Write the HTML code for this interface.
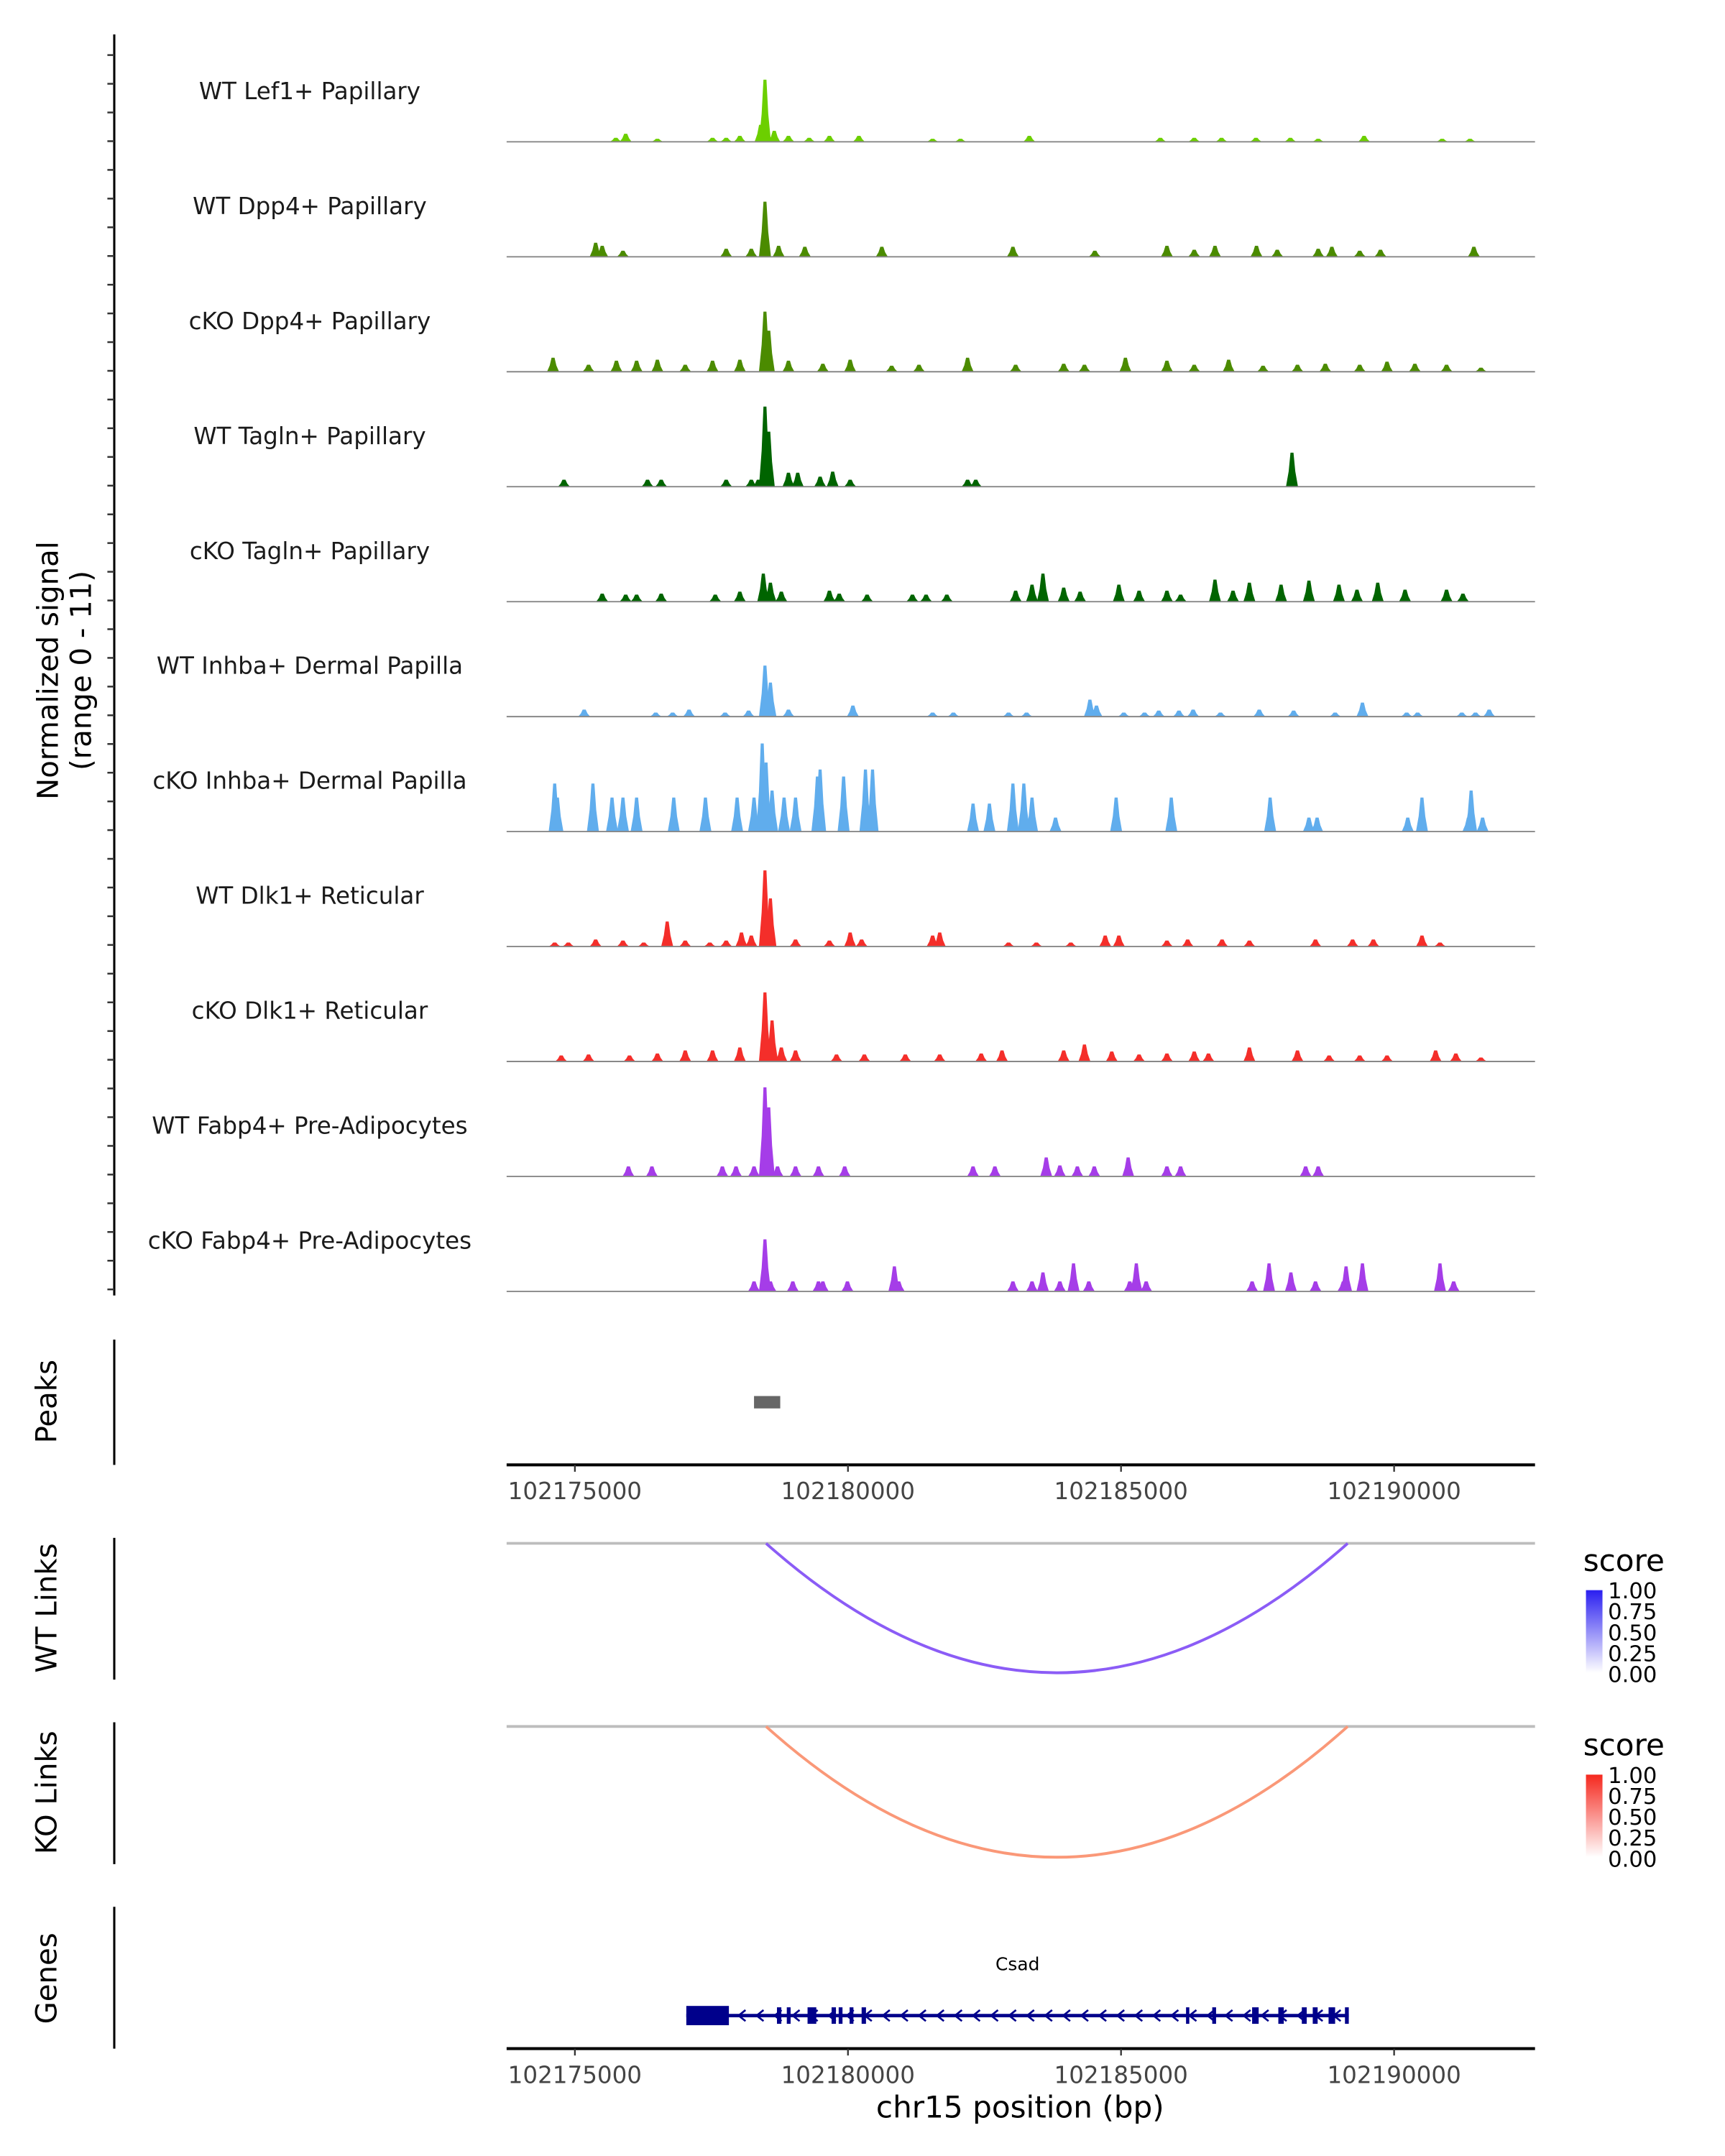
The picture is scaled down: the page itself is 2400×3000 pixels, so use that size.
<!DOCTYPE html>
<html><head><meta charset="utf-8"><style>
html,body{margin:0;padding:0;background:#fff;}
svg{display:block;font-family:"DejaVu Sans","Liberation Sans",sans-serif;}
</style></head><body>
<svg id="chart" width="2400" height="3000" viewBox="0 0 1253 1566" preserveAspectRatio="none" xmlns="http://www.w3.org/2000/svg">
<g id="tracks"></g>
<g id="lower"></g>
</svg>
<script>
// ---- data ----
const regionStart = 102173750;
const regionEnd = 102192580;
const axisTicks = [102175000, 102180000, 102185000, 102190000];
const trackNames = ["WT Lef1+ Papillary","WT Dpp4+ Papillary","cKO Dpp4+ Papillary","WT Tagln+ Papillary","cKO Tagln+ Papillary","WT Inhba+ Dermal Papilla","cKO Inhba+ Dermal Papilla","WT Dlk1+ Reticular","cKO Dlk1+ Reticular","WT Fabp4+ Pre-Adipocytes","cKO Fabp4+ Pre-Adipocytes"];
const trackColors = ["#6ccf00","#4b8b00","#4b8b00","#006400","#006400","#60aded","#60aded","#f42e2a","#f42e2a","#a53de8","#a53de8"];
// peaks per track: [position kb (offset in 102,1xx kb), height (0-11)]
const t1 = [[178.48,6.2],[178.40,1.7],[178.65,1.1],[175.93,0.8],[175.75,0.4],[177.77,0.4],[178.02,0.6],[178.91,0.6],[179.29,0.4],[179.66,0.6],[180.2,0.6],[181.55,0.3],[182.06,0.3],[183.32,0.6],[185.72,0.4],[186.34,0.4],[186.84,0.4],[187.47,0.4],[188.1,0.4],[188.61,0.3],[189.45,0.6],[190.88,0.3],[191.39,0.3],[177.52,0.4],[176.51,0.3]];
const t2 = [[178.48,5.5],[175.38,1.4],[175.5,1.1],[175.88,0.6],[177.77,0.8],[178.23,0.8],[178.73,1.1],[179.21,1.0],[180.62,1.0],[183.02,1.0],[184.52,0.6],[185.84,1.1],[186.34,0.7],[186.72,1.1],[187.48,1.1],[187.86,0.7],[188.61,0.8],[188.86,1.0],[189.37,0.6],[189.75,0.7],[191.46,1.0]];
const t3 = [[178.48,6.0],[178.55,4.1],[174.6,1.4],[175.25,0.7],[175.76,1.1],[176.13,1.1],[176.51,1.2],[177.02,0.7],[177.52,1.1],[178.02,1.2],[178.91,1.1],[179.54,0.8],[180.04,1.2],[180.8,0.6],[181.3,0.7],[182.19,1.4],[183.07,0.7],[183.95,0.8],[184.33,0.7],[185.08,1.4],[185.84,1.1],[186.34,0.7],[186.97,1.2],[187.6,0.6],[188.23,0.7],[188.74,0.8],[189.37,0.7],[189.87,1.0],[190.38,0.8],[190.96,0.7],[191.59,0.4]];
const t4 = [[178.48,8.0],[178.55,5.5],[174.8,0.7],[176.33,0.7],[176.58,0.7],[177.77,0.7],[178.23,0.7],[178.36,0.7],[178.91,1.4],[179.08,1.4],[179.49,1.0],[179.72,1.5],[180.04,0.7],[182.19,0.7],[182.34,0.7],[188.13,3.4]];
const t5 = [[175.5,0.8],[175.93,0.7],[176.13,0.7],[176.58,0.8],[177.57,0.7],[178.02,1.0],[178.45,2.8],[178.58,1.9],[178.78,1.0],[179.66,1.1],[179.84,0.8],[180.35,0.7],[181.18,0.7],[181.43,0.7],[181.81,0.7],[183.07,1.1],[183.37,1.7],[183.57,2.8],[183.95,1.4],[184.25,1.0],[184.96,1.7],[185.33,1.1],[185.84,1.1],[186.09,0.7],[186.72,2.2],[187.05,1.1],[187.35,1.9],[187.93,1.7],[188.44,2.1],[188.99,1.7],[189.32,1.2],[189.7,1.9],[190.2,1.2],[190.96,1.2],[191.26,0.8]];
const t6 = [[178.48,5.1],[178.58,3.4],[175.17,0.7],[176.48,0.4],[176.79,0.4],[177.09,0.7],[177.75,0.4],[178.18,0.6],[178.91,0.7],[180.09,1.1],[181.55,0.4],[181.93,0.4],[182.94,0.4],[183.27,0.4],[184.43,1.7],[184.55,1.1],[185.05,0.4],[185.43,0.4],[185.69,0.6],[186.06,0.6],[186.32,0.7],[186.82,0.4],[187.53,0.7],[188.16,0.6],[188.92,0.4],[189.42,1.4],[190.23,0.4],[190.43,0.4],[191.24,0.4],[191.49,0.4],[191.74,0.7]];
const t7 = [[178.43,8.8],[178.5,6.9],[174.63,4.8],[174.68,3.4],[175.33,4.8],[175.68,3.4],[175.88,3.4],[176.13,3.4],[176.81,3.4],[177.39,3.4],[177.97,3.4],[178.28,3.4],[178.61,4.1],[178.83,3.4],[179.04,3.4],[179.44,5.5],[179.49,6.2],[179.92,5.5],[180.32,6.2],[180.45,6.2],[182.29,2.8],[182.59,2.8],[183.02,4.8],[183.22,4.8],[183.37,3.4],[183.8,1.4],[184.91,3.4],[185.92,3.4],[187.73,3.4],[188.44,1.4],[188.59,1.4],[190.25,1.4],[190.51,3.4],[191.36,1.4],[191.62,1.4],[191.41,4.1]];
const t8 = [[178.48,7.6],[178.58,4.8],[174.63,0.4],[174.88,0.4],[175.38,0.7],[175.88,0.6],[176.26,0.4],[176.69,2.5],[177.02,0.6],[177.47,0.4],[177.77,0.6],[178.05,1.4],[178.23,1.1],[179.04,0.7],[179.66,0.6],[180.04,1.4],[180.25,0.7],[181.55,1.1],[181.68,1.4],[182.94,0.4],[183.45,0.4],[184.08,0.4],[184.71,1.1],[184.96,1.1],[185.84,0.6],[186.22,0.7],[186.85,0.7],[187.35,0.6],[188.56,0.7],[189.24,0.7],[189.62,0.7],[190.51,1.1],[190.84,0.4]];
const t9 = [[178.48,6.9],[178.61,4.1],[174.75,0.6],[175.25,0.7],[176.0,0.6],[176.51,0.8],[177.02,1.1],[177.52,1.1],[178.02,1.4],[178.78,1.4],[179.04,1.1],[179.79,0.7],[180.3,0.7],[181.05,0.7],[181.68,0.7],[182.44,0.8],[182.82,1.1],[183.95,1.1],[184.33,1.7],[184.83,1.0],[185.33,0.7],[185.84,0.8],[186.34,1.0],[186.6,0.8],[187.35,1.4],[188.23,1.1],[188.81,0.6],[189.37,0.6],[189.87,0.6],[190.76,1.1],[191.13,0.8],[191.59,0.4]];
const t10 = [[178.48,8.9],[178.55,6.9],[175.98,1.0],[176.41,1.0],[177.7,1.0],[177.95,1.0],[178.28,1.0],[178.71,1.0],[179.04,1.0],[179.46,1.0],[179.94,1.0],[182.29,1.0],[182.69,1.0],[183.63,1.9],[183.88,1.1],[184.2,1.0],[184.51,1.0],[185.13,1.9],[185.84,1.0],[186.09,1.0],[188.38,1.0],[188.61,1.0]];
const t11 = [[178.48,5.2],[178.28,1.0],[178.58,1.0],[178.99,1.0],[179.46,1.0],[179.54,1.0],[179.99,1.0],[180.85,2.5],[180.93,1.0],[183.02,1.0],[183.37,1.0],[183.57,1.9],[183.88,1.0],[184.13,2.8],[184.41,1.0],[185.16,1.0],[185.28,2.8],[185.46,1.0],[187.4,1.0],[187.71,2.8],[188.11,1.9],[188.56,1.0],[189.07,1.0],[189.12,2.5],[189.42,2.8],[190.84,2.8],[191.09,1.0]];
const trackValues = [t1,t2,t3,t4,t5,t6,t7,t8,t9,t10,t11];
const peakRegions = [[102178280, 102178760]];
const linkStart = [102178500];
const linkEnd = [102189150];
const wtLinkScore = [0.55];
const koLinkScore = [0.45];
const geneName = "Csad";
const geneStart = 102177040, geneEnd = 102189170;
const geneUTR = [[102177040, 102177820]];
const geneExons = [[102178700,102178780],[102178880,102178950],[102179260,102179420],[102179700,102179780],[102179830,102179900],[102180030,102180100],[102180250,102180330],[102186190,102186250],[102186670,102186740],[102187400,102187520],[102187880,102187980],[102188310,102188400],[102188510,102188600],[102188800,102188920],[102189100,102189170]];
const colorbarLabels = ["1.00","0.75","0.50","0.25","0.00"];

// ---- scales ----
const PX0 = 368, PX1 = 1115;
function xs(bp){ return PX0 + (bp - regionStart) / (regionEnd - regionStart) * (PX1 - PX0); }
function xkb(kb){ return xs(102000000 + kb * 1000); }
const trackBase0 = 103, trackStep = 83.5, trackH = 80, yMax = 11;
function ys(v, base){ return base - v / yMax * trackH; }
const NS = "http://www.w3.org/2000/svg";
function mk(tag, attrs, parent){ const e = document.createElementNS(NS, tag); for (const k in attrs) e.setAttribute(k, attrs[k]); parent.appendChild(e); return e; }

const tg = document.getElementById('tracks');
const lg = document.getElementById('lower');

let a = mk('line', {x1:83,y1:25,x2:83,y2:941,stroke:'#000','stroke-width':1.6}, tg);


for (let y = 40; y <= 941; y += 20.85) {
  const t = mk('line', {x1:78,y1:y,x2:83,y2:y,stroke:'#333','stroke-width':1.3}, tg);
  
  
}
let yt = mk('text', {x:0,y:0,'font-size':21,fill:'#000','text-anchor':'middle',transform:'translate(42,487) rotate(-90)'}, tg);


mk('tspan', {x:0,dy:0}, yt).textContent = 'Normalized signal';
mk('tspan', {x:0,dy:24}, yt).textContent = '(range 0 - 11)';

trackNames.forEach((name, i) => {
  const base = trackBase0 + i * trackStep;
  const g = mk('g', {}, tg);
  
  
  const lab = mk('text', {x:225,y:base-31,'font-size':17,fill:'#1a1a1a','text-anchor':'middle'}, g);
  
  
  lab.textContent = name;
  trackValues[i].forEach(p => {
    const c = xkb(p[0]);
    const hw = xkb(p[0] + 0.11) - c;
    const top = ys(p[1], base);
    const poly = mk('polygon', {points: `${c-hw},${base} ${c-hw*0.55},${ys(p[1]*0.45, base)} ${c-hw*0.25},${top} ${c+hw*0.25},${top} ${c+hw*0.55},${ys(p[1]*0.45, base)} ${c+hw},${base}`, fill: trackColors[i]}, g);
    
    
  });
  const bl = mk('line', {x1:PX0,y1:base,x2:PX1,y2:base,stroke:'#888','stroke-width':1}, g);
  
  
});

function sideAxis(y1, y2, label, ly){
  const l = mk('line', {x1:83,y1:y1,x2:83,y2:y2,stroke:'#000','stroke-width':1.6}, lg);
  
  
  const t = mk('text', {x:0,y:0,'font-size':21,fill:'#000','text-anchor':'middle',transform:`translate(41,${ly}) rotate(-90)`}, lg);
  
  
  t.textContent = label;
}
sideAxis(973, 1064, 'Peaks', 1018);
peakRegions.forEach(r => {
  const e = mk('rect', {x:xs(r[0]),y:1014,width:xs(r[1])-xs(r[0]),height:9,fill:'#666'}, lg);
  
  
});
function xAxis(y){
  const l = mk('line', {x1:PX0,y1:y,x2:PX1,y2:y,stroke:'#000','stroke-width':2.2}, lg);
  
  
  axisTicks.forEach(t => {
    const tk = mk('line', {x1:xs(t),y1:y,x2:xs(t),y2:y+5,stroke:'#333','stroke-width':1.2}, lg);
    
    
    const tl = mk('text', {x:xs(t),y:y+25,'font-size':17,fill:'#444','text-anchor':'middle'}, lg);
    
    
    tl.textContent = String(t);
  });
}
xAxis(1064);

function linkPanel(y1, y2, label, ly, topY, bottomY, color, scores, barTop, cTop, cBot){
  sideAxis(y1, y2, label, ly);
  const gl = mk('line', {x1:PX0,y1:topY,x2:PX1,y2:topY,stroke:'#bdbdbd','stroke-width':2}, lg);
  
  
  linkStart.forEach((s, k) => {
    const x0 = xs(s), x1 = xs(linkEnd[k]);
    const cx = (x0 + x1)/2, depth = (bottomY - topY) * 2;
    const arc = mk('path', {d:`M${x0},${topY} Q${cx},${topY+depth} ${x1},${topY}`, fill:'none', stroke:color, 'stroke-width':2}, lg);
    
    
  });
  const st = mk('text', {x:1150,y:barTop-14,'font-size':22,fill:'#000'}, lg);
  
  
  st.textContent = 'score';
  const id = 'grad' + y1;
  const defs = mk('defs', {}, lg);
  const gr = mk('linearGradient', {id:id,x1:0,y1:0,x2:0,y2:1}, defs);
  mk('stop', {offset:'0','stop-color':cTop}, gr);
  mk('stop', {offset:'1','stop-color':cBot}, gr);
  const cb = mk('rect', {x:1152,y:barTop,width:12,height:60,fill:`url(#${id})`}, lg);
  
  
  colorbarLabels.forEach((t, k) => {
    const tt = mk('text', {x:1168,y:barTop + 6 + k*15.2,'font-size':16,fill:'#000'}, lg);
    
    
    tt.textContent = t;
  });
}
linkPanel(1117, 1220, 'WT Links', 1168, 1121, 1215, '#8b5cf6', wtLinkScore, 1155, '#2a1ff0', '#ffffff');
linkPanel(1251, 1354, 'KO Links', 1302, 1254, 1349, '#fa9878', koLinkScore, 1289, '#f5281e', '#ffffff');

sideAxis(1385, 1488, 'Genes', 1437);
const gn = mk('text', {x:(xs(geneStart)+xs(geneEnd))/2,y:1431,'font-size':13,fill:'#000','text-anchor':'middle'}, lg);


gn.textContent = geneName;
const gy = 1464;
const gline = mk('line', {x1:xs(geneStart),y1:gy,x2:xs(geneEnd),y2:gy,stroke:'#00008b','stroke-width':2.5}, lg);


for (let x = xs(geneStart) + 40; x < xs(geneEnd) - 5; x += 13.1) {
  const ar = mk('path', {d:`M${x+3},${gy-4} L${x-2},${gy} L${x+3},${gy+4}`, fill:'none', stroke:'#00008b','stroke-width':1.4}, lg);
  
  
}
geneUTR.forEach(r => {
  const e = mk('rect', {x:xs(r[0]),y:gy-7,width:xs(r[1])-xs(r[0]),height:14,fill:'#00008b'}, lg);
  
  
});
geneExons.forEach(r => {
  const e = mk('rect', {x:xs(r[0]),y:gy-6,width:Math.max(2, xs(r[1])-xs(r[0])),height:12,fill:'#00008b'}, lg);
  
  
});
xAxis(1488);
const xt = mk('text', {x:741,y:1538,'font-size':22,fill:'#000','text-anchor':'middle'}, lg);


xt.textContent = 'chr15 position (bp)';
</script>
</body></html>
